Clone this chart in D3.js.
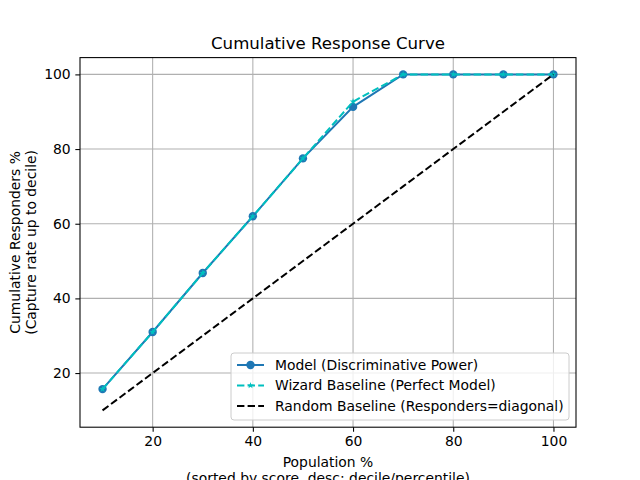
<!DOCTYPE html>
<html lang="en">
<head>
<meta charset="UTF-8">
<title>Cumulative Response Curve</title>
<script src="https://d3js.org/d3.v7.min.js"></script>
<style>
  body { margin: 0; background: #fff; }
  text { font-family: "DejaVu Sans", sans-serif; fill: #000; }
</style>
</head>
<body>
<script>
    // data
    const deciles = [10, 20, 30, 40, 50, 60, 70, 80, 90, 100];
    const modelValues = [15.7, 31.0, 46.8, 62.0, 77.5, 91.3, 100, 100, 100, 100];
    const wizardValues = [15.7, 31.0, 46.8, 62.0, 77.5, 92.7, 100, 100, 100, 100];
    const randomValues = [10, 20, 30, 40, 50, 60, 70, 80, 90, 100];
    const xTicks = [20, 40, 60, 80, 100];
    const yTicks = [20, 40, 60, 80, 100];

    const WIDTH = 640, HEIGHT = 480;
    const PLOT_L = 80, PLOT_R = 576, PLOT_T = 57.6, PLOT_B = 427.2;
    const FS = "13.9px";
    const WIZ = "#00bfbf";

    const svg = d3.select("body").append("svg").attr("width", WIDTH).attr("height", HEIGHT);

    const x = d3.scaleLinear().domain([5.5, 104.5]).range([PLOT_L, PLOT_R]);
    const y = d3.scaleLinear().domain([5.5, 104.5]).range([PLOT_B, PLOT_T]);

    // grid
    const grid = svg.append("g");
    xTicks.forEach(t => {
        grid.append("line").attr("x1", x(t)).attr("x2", x(t)).attr("y1", PLOT_T).attr("y2", PLOT_B)
            .attr("stroke", "#b0b0b0").attr("stroke-width", 0.8 * 4 / 3);
    });
    yTicks.forEach(t => {
        grid.append("line").attr("y1", y(t)).attr("y2", y(t)).attr("x1", PLOT_L).attr("x2", PLOT_R)
            .attr("stroke", "#b0b0b0").attr("stroke-width", 0.8 * 4 / 3);
    });

    // axes
    const xAxis = svg.append("g").attr("transform", `translate(0,${PLOT_B})`)
        .call(d3.axisBottom(x).tickValues(xTicks).tickSize(4.67).tickPadding(4.67));
    const yAxis = svg.append("g").attr("transform", `translate(${PLOT_L},0)`)
        .call(d3.axisLeft(y).tickValues(yTicks).tickSize(4.67).tickPadding(4.67));
    [xAxis, yAxis].forEach(a => {
        a.select(".domain").remove();
        a.selectAll("line").attr("stroke", "#000").attr("stroke-width", 1.07);
        a.selectAll("text").style("font-size", FS).style("font-family", "DejaVu Sans");
    });

    svg.append("rect").attr("x", PLOT_L).attr("y", PLOT_T).attr("width", PLOT_R - PLOT_L).attr("height", PLOT_B - PLOT_T)
        .attr("fill", "none").attr("stroke", "#000").attr("stroke-width", 1.07);

    const line = vals => d3.line().x((d, i) => x(deciles[i])).y(d => y(d))(vals);

    // model
    svg.append("path").attr("d", line(modelValues)).attr("fill", "none")
        .attr("stroke", "#1f77b4").attr("stroke-width", 2);
    svg.append("g").selectAll("circle").data(modelValues).join("circle")
        .attr("cx", (d, i) => x(deciles[i])).attr("cy", d => y(d)).attr("r", 4.2)
        .attr("fill", "#1f77b4");

    // wizard
    svg.append("path").attr("d", line(wizardValues)).attr("fill", "none")
        .attr("stroke", WIZ).attr("stroke-width", 2).attr("stroke-dasharray", "7.4,3.2");
    const star = d3.symbol().type(d3.symbolStar).size(14);
    svg.append("g").selectAll("path").data(wizardValues).join("path")
        .attr("d", star)
        .attr("transform", (d, i) => `translate(${x(deciles[i])},${y(d)})`)
        .attr("fill", WIZ);

    // random
    svg.append("path").attr("d", line(randomValues)).attr("fill", "none")
        .attr("stroke", "#000").attr("stroke-width", 2).attr("stroke-dasharray", "7.4,3.2");

    // title and labels
    svg.append("text").attr("x", (PLOT_L + PLOT_R) / 2).attr("y", 49).attr("text-anchor", "middle")
        .style("font-size", "16.6px").text("Cumulative Response Curve");
    svg.append("text").attr("x", (PLOT_L + PLOT_R) / 2).attr("y", 467).attr("text-anchor", "middle")
        .style("font-size", FS).text("Population %");
    svg.append("text").attr("x", (PLOT_L + PLOT_R) / 2).attr("y", 482.5).attr("text-anchor", "middle")
        .style("font-size", FS).text("(sorted by score, desc; decile/percentile)");
    const yl = svg.append("g").attr("transform", `translate(20,${(PLOT_T + PLOT_B) / 2}) rotate(-90)`);
    yl.append("text").attr("text-anchor", "middle").attr("y", 0)
        .style("font-size", FS).text("Cumulative Responders %");
    yl.append("text").attr("text-anchor", "middle").attr("y", 15.5)
        .style("font-size", FS).text("(Capture rate up to decile)");

    // legend
    const legendItems = [
        {label: "Model (Discriminative Power)", color: "#1f77b4", dash: null, marker: "circle"},
        {label: "Wizard Baseline (Perfect Model)", color: WIZ, dash: "7.4,3.2", marker: "star"},
        {label: "Random Baseline (Responders=diagonal)", color: "#000", dash: "7.4,3.2", marker: null}
    ];
    const lg = svg.append("g").attr("transform", "translate(231,353)");
    lg.append("rect").attr("width", 338).attr("height", 67).attr("rx", 3)
        .attr("fill", "#fff").attr("fill-opacity", 0.8).attr("stroke", "#cccccc").attr("stroke-width", 1);
    legendItems.forEach((it, i) => {
        const cy = 12 + i * 20.5;
        lg.append("line").attr("x1", 6).attr("x2", 33).attr("y1", cy).attr("y2", cy)
            .attr("stroke", it.color).attr("stroke-width", 2).attr("stroke-dasharray", it.dash);
        if (it.marker === "circle") {
            lg.append("circle").attr("cx", 19.5).attr("cy", cy).attr("r", 4.2).attr("fill", it.color);
        } else if (it.marker === "star") {
            lg.append("path").attr("d", star).attr("transform", `translate(19.5,${cy})`).attr("fill", it.color);
        }
        lg.append("text").attr("x", 44).attr("y", cy + 4.8).style("font-size", FS).text(it.label);
    });
</script>
</body>
</html>
